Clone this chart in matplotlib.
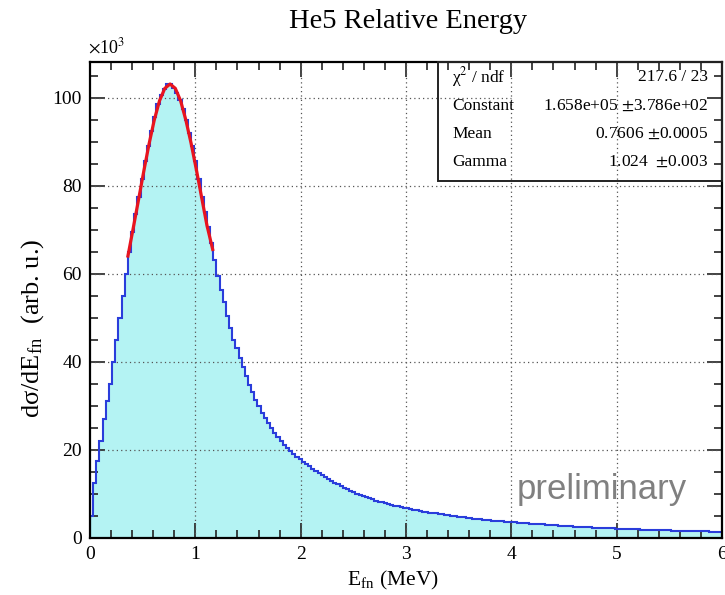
import numpy as np
import matplotlib
matplotlib.use("Agg")
import matplotlib.pyplot as plt
from matplotlib.ticker import MultipleLocator

# histogram: 200 bins of 0.03 MeV between 0 and 6 MeV, counts in units of 10^3
bin_width = 0.03
counts = [
    5.0, 12.5, 17.5, 22.0, 27.0, 31.0, 35.0, 40.0, 45.0, 50.0,
    55.0, 60.0, 65.0, 69.5, 73.5, 77.5, 81.5, 85.5, 89.0, 92.5,
    95.5, 98.5, 100.5, 102.0, 103.0, 103.0, 102.3, 101.0, 99.5, 97.5,
    95.0, 92.0, 89.0, 85.5, 81.5, 77.5, 74.0, 70.5, 67.0, 63.0,
    59.5, 56.3, 53.5, 50.3, 47.6, 45.0, 43.0, 40.8, 38.9, 36.7,
    34.8, 33.0, 31.4, 29.9, 28.4, 27.2, 26.0, 24.9, 23.8, 22.8,
    22.0, 21.1, 20.4, 19.6, 19.0, 18.4, 17.8, 17.2, 16.7, 16.2,
    15.7, 15.2, 14.7, 14.2, 13.8, 13.3, 12.9, 12.5, 12.1, 11.7,
    11.3, 11.0, 10.6, 10.3, 10.0, 9.7, 9.45, 9.2, 8.95, 8.7,
    8.45, 8.2, 8.0, 7.8, 7.6, 7.4, 7.25, 7.1, 6.95, 6.8,
    6.65, 6.5, 6.35, 6.2, 6.05, 5.95, 5.85, 5.7, 5.6, 5.5,
    5.4, 5.3, 5.2, 5.1, 5.0, 4.9, 4.8, 4.7, 4.6, 4.5,
    4.45, 4.35, 4.3, 4.2, 4.1, 4.05, 4.0, 3.9, 3.85, 3.8,
    3.7, 3.65, 3.6, 3.55, 3.5, 3.4, 3.35, 3.3, 3.25, 3.2,
    3.15, 3.1, 3.05, 3.0, 2.95, 2.9, 2.85, 2.8, 2.75, 2.7,
    2.65, 2.62, 2.58, 2.54, 2.5, 2.46, 2.42, 2.38, 2.34, 2.3,
    2.27, 2.24, 2.2, 2.17, 2.14, 2.1, 2.07, 2.04, 2.01, 1.98,
    1.95, 1.92, 1.9, 1.87, 1.85, 1.82, 1.8, 1.77, 1.75, 1.73,
    1.7, 1.68, 1.66, 1.64, 1.62, 1.6, 1.58, 1.56, 1.54, 1.52,
    1.5, 1.48, 1.46, 1.45, 1.43, 1.41, 1.4, 1.38, 1.37, 1.35,
]

# fit curve
fit_e = [0.36, 0.41, 0.46, 0.51, 0.56, 0.61, 0.66, 0.71, 0.76,
         0.81, 0.86, 0.91, 0.96, 1.01, 1.06, 1.11, 1.165]
fit_v = [64.0, 70.3, 76.7, 83.2, 89.4, 94.9, 99.3, 102.1, 103.1,
         102.1, 99.3, 94.9, 89.6, 83.6, 77.3, 71.0, 65.5]

stat_names = ["χ$^{2}$ / ndf", "Constant", "Mean", "Gamma"]
stat_values = ["217.6 / 23", "1.658e+05 $\\pm$3.786e+02",
               "0.7606 $\\pm$0.0005", "1.024  $\\pm$0.003"]

plt.rcParams['font.family'] = ['Liberation Serif', 'DejaVu Serif']
plt.rcParams['mathtext.fontset'] = 'stix'

W, H = 725, 595
fig = plt.figure(figsize=(W / 100, H / 100), dpi=100)
x0, x1, y0, y1 = 90, 722, 62, 537.7
ax = fig.add_axes([x0 / W, 1 - y1 / H, (x1 - x0) / W, (y1 - y0) / H])

edges = np.arange(len(counts) + 1) * bin_width
ax.stairs(counts, edges, fill=True, color='#b4f3f3', zorder=1)
ax.stairs(counts, edges, color='#2a3ddb', lw=1.5, zorder=3)
ax.plot(fit_e, fit_v, color='#e8141e', lw=2.3, zorder=4)

ax.set_xlim(0, 6)
ax.set_ylim(0, 108.1)
ax.xaxis.set_major_locator(MultipleLocator(1))
ax.xaxis.set_minor_locator(MultipleLocator(0.2))
ax.yaxis.set_major_locator(MultipleLocator(20))
ax.yaxis.set_minor_locator(MultipleLocator(5))
ax.tick_params(which='both', direction='in', top=True, right=True,
               labelsize=14, width=1.2, color='#222222')
ax.tick_params(which='major', length=11, pad=6)
ax.tick_params(which='minor', length=5.5)
for s in ax.spines.values():
    s.set_linewidth(1.6)
    s.set_zorder(6)

# grid: vertical lines full height, the 100 line stops at the stats box
gstyle = dict(color='#555555', lw=0.9, ls=(0, (1, 2.5)), zorder=2)
for xv in range(1, 6):
    ax.axvline(xv, **gstyle)
for yv in range(20, 101, 20):
    ax.axhline(yv, xmax=(4 / 6 if yv == 100 else 1), **gstyle)

ax.set_xlabel(r"E$_{\mathregular{fn}}$ (MeV)", fontsize=15.5)
ax.xaxis.set_label_coords((393 - x0) / (x1 - x0), -0.065)
ax.set_ylabel("dσ/dE$_{\\mathregular{fn}}$  (arb. u.)", fontsize=19)
ax.yaxis.set_label_coords(-0.07, 0.44)

fig.text(408 / W, 1 - 22 / H, "He5 Relative Energy", ha='center',
         va='center', fontsize=20.5)
fig.text(88 / W, 1 - 47 / H, r"$\times$10$^{3}$", ha='left',
         va='center', fontsize=13)

# stats box
bx0, bx1, by0, by1 = 438, 722, 62, 181
fig.patches.append(plt.Rectangle((bx0 / W, 1 - by1 / H), (bx1 - bx0) / W,
                                 (by1 - by0) / H, transform=fig.transFigure,
                                 fill=False, lw=1.4, ec='#222222', zorder=7))
row_y = [77, 106, 134, 162]
for name, val, ry in zip(stat_names, stat_values, row_y):
    fig.text(452 / W, 1 - ry / H, name, ha='left', va='center', fontsize=12.5)
    fig.text(708 / W, 1 - ry / H, val, ha='right', va='center', fontsize=12.5)

fig.text(602 / W, 1 - 490 / H, "preliminary", ha='center', va='center',
         fontsize=25, color='#808080', family='Liberation Sans')

fig.savefig("out.png", dpi=100)
